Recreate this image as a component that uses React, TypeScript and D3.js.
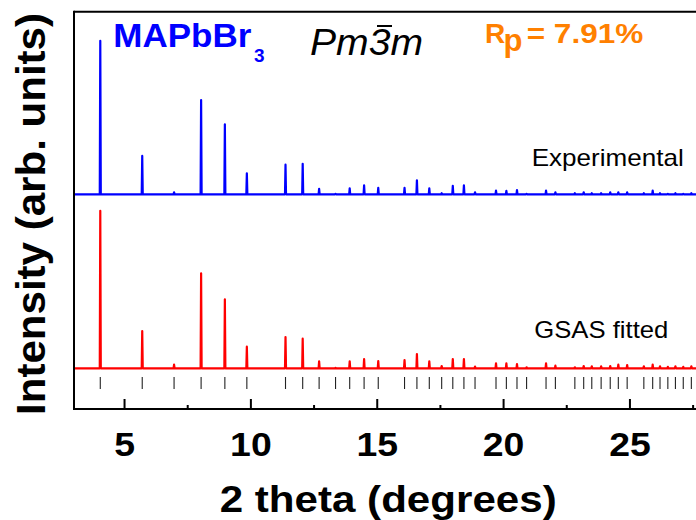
import React from "react";
import * as d3 from "d3";

// 2θ positions (degrees) of the reflections / peaks
const reflections = [4.04, 5.70, 6.96, 8.03, 8.97, 9.84, 11.37, 12.05, 12.70, 13.35, 13.91, 14.48, 15.04, 16.08, 16.57, 17.06, 17.55, 17.99, 18.43, 18.87, 19.70, 20.11, 20.53, 20.91, 21.68, 22.05, 22.82, 23.17, 23.49, 23.86, 24.22, 24.54, 24.89, 25.55, 25.90, 26.19, 26.50, 26.80, 27.11, 27.43];
// Experimental peak intensities (arb. units)
const experimental = [100.5, 25.1, 1.3, 61.7, 45.8, 13.7, 19.4, 20.0, 3.5, 0.3, 3.9, 5.9, 4.3, 4.3, 9.2, 3.9, 0.7, 5.6, 5.9, 1.3, 2.4, 2.2, 2.8, 0.3, 2.4, 1.3, 0.7, 1.3, 0.7, 0.7, 1.3, 1.3, 1.3, 0.7, 2.4, 0.7, 0.3, 0.7, 0.3, 0.7];
// GSAS fitted peak intensities (arb. units)
const fitted = [103.1, 24.4, 2.4, 62.2, 45.2, 14.2, 20.5, 19.4, 4.6, 0.3, 4.6, 6.1, 4.8, 5.4, 9.4, 4.6, 1.5, 6.1, 6.1, 1.1, 3.3, 3.3, 2.8, 0.7, 3.3, 1.8, 0.7, 1.5, 1.3, 1.3, 1.5, 2.4, 2.2, 1.3, 2.4, 1.3, 1.0, 1.3, 1.0, 1.3];
// vertical offsets of the two patterns (arb. units)
const offsets = { experimental: 140.5, fitted: 26.6 };
const majorTicks = [5, 10, 15, 20, 25];
const minorTicks = [7.5, 12.5, 17.5, 22.5, 27.5];
const xDomain: [number, number] = [3, 28];

const FONT = "'Liberation Sans', Arial, Helvetica, sans-serif";

export default function App() {
  const x = d3.scaleLinear().domain(xDomain).range([74, 705.75]);
  const y = d3.scaleLinear().domain([0, 260]).range([409, 11.7]);

  const buildPts = (vals: number[], off: number) => {
    const pts: [number, number][] = [[xDomain[0], off]];
    reflections.forEach((p, i) => {
      pts.push([p - 0.02, off]);
      pts.push([p, off + vals[i]]);
      pts.push([p + 0.02, off]);
    });
    pts.push([xDomain[1], off]);
    return pts;
  };
  const line = d3
    .line<[number, number]>()
    .x((d) => x(d[0]))
    .y((d) => y(d[1]));

  const expPath = line(buildPts(experimental, offsets.experimental)) || "";
  const fitPath = line(buildPts(fitted, offsets.fitted)) || "";

  const bottom = y(0);

  return (
    <svg
      width={696}
      height={520}
      style={{ position: "absolute", left: 0, top: 0, background: "#fff" }}
      fontFamily={FONT}
    >
      <rect x={0} y={0} width={696} height={520} fill="#fff" />
      {/* patterns */}
      <path d={expPath} fill="none" stroke="#0000ff" strokeWidth={2.2} strokeLinejoin="round" />
      <path d={fitPath} fill="none" stroke="#ff0000" strokeWidth={2.2} strokeLinejoin="round" />
      {/* reflection markers */}
      {reflections.map((p, i) => (
        <line key={"r" + i} x1={x(p)} x2={x(p)} y1={377} y2={389} stroke="#222" strokeWidth={1.1} />
      ))}
      {/* frame */}
      <line x1={74} x2={696} y1={11.7} y2={11.7} stroke="#000" strokeWidth={2} />
      <line x1={74} x2={74} y1={10.7} y2={bottom + 1} stroke="#000" strokeWidth={2} />
      <line x1={73} x2={696} y1={bottom} y2={bottom} stroke="#000" strokeWidth={2} />
      {majorTicks.map((t) => (
        <line key={"M" + t} x1={x(t)} x2={x(t)} y1={bottom} y2={bottom - 10} stroke="#000" strokeWidth={2} />
      ))}
      {minorTicks.map((t) => (
        <line key={"m" + t} x1={x(t)} x2={x(t)} y1={bottom} y2={bottom - 4} stroke="#000" strokeWidth={2} />
      ))}
      {majorTicks.map((t) => (
        <text
          key={"L" + t}
          transform={`translate(${x(t)},456) scale(1.1,1)`}
          textAnchor="middle"
          fontSize={34}
          fontWeight="bold"
          fill="#000"
        >
          {t}
        </text>
      ))}
      <text x={219.7} y={511.7} fontSize={37} fontWeight="bold" textLength={337} lengthAdjust="spacingAndGlyphs">
        2 theta (degrees)
      </text>
      <text
        transform="translate(45,415) rotate(-90)"
        fontSize={40}
        fontWeight="bold"
        textLength={402}
        lengthAdjust="spacingAndGlyphs"
      >
        Intensity (arb. units)
      </text>
      {/* annotations */}
      <text x={113.3} y={47.3} fontSize={33.5} fontWeight="bold" fill="#0000ff" textLength={138} lengthAdjust="spacingAndGlyphs">
        MAPbBr
      </text>
      <text x={254} y={61.7} fontSize={19} fontWeight="bold" fill="#0000ff">
        3
      </text>
      <text x={310} y={55} fontSize={37} fontStyle="italic" fill="#000" textLength={113} lengthAdjust="spacingAndGlyphs">
        Pm3m
      </text>
      <line x1={377} x2={392} y1={26} y2={26} stroke="#000" strokeWidth={2} />
      <text x={485} y={43.3} fontSize={28} fontWeight="bold" fill="#ff8000">
        R
      </text>
      <text x={503.5} y={51} fontSize={31} fontWeight="bold" fill="#ff8000">
        p
      </text>
      <text x={526.7} y={43.3} fontSize={28} fontWeight="bold" fill="#ff8000" textLength={116.6} lengthAdjust="spacingAndGlyphs">
        = 7.91%
      </text>
      <text x={531.7} y={166} fontSize={24} fill="#000" textLength={152} lengthAdjust="spacingAndGlyphs">
        Experimental
      </text>
      <text x={534.3} y={338.3} fontSize={24} fill="#000" textLength={134} lengthAdjust="spacingAndGlyphs">
        GSAS fitted
      </text>
    </svg>
  );
}
